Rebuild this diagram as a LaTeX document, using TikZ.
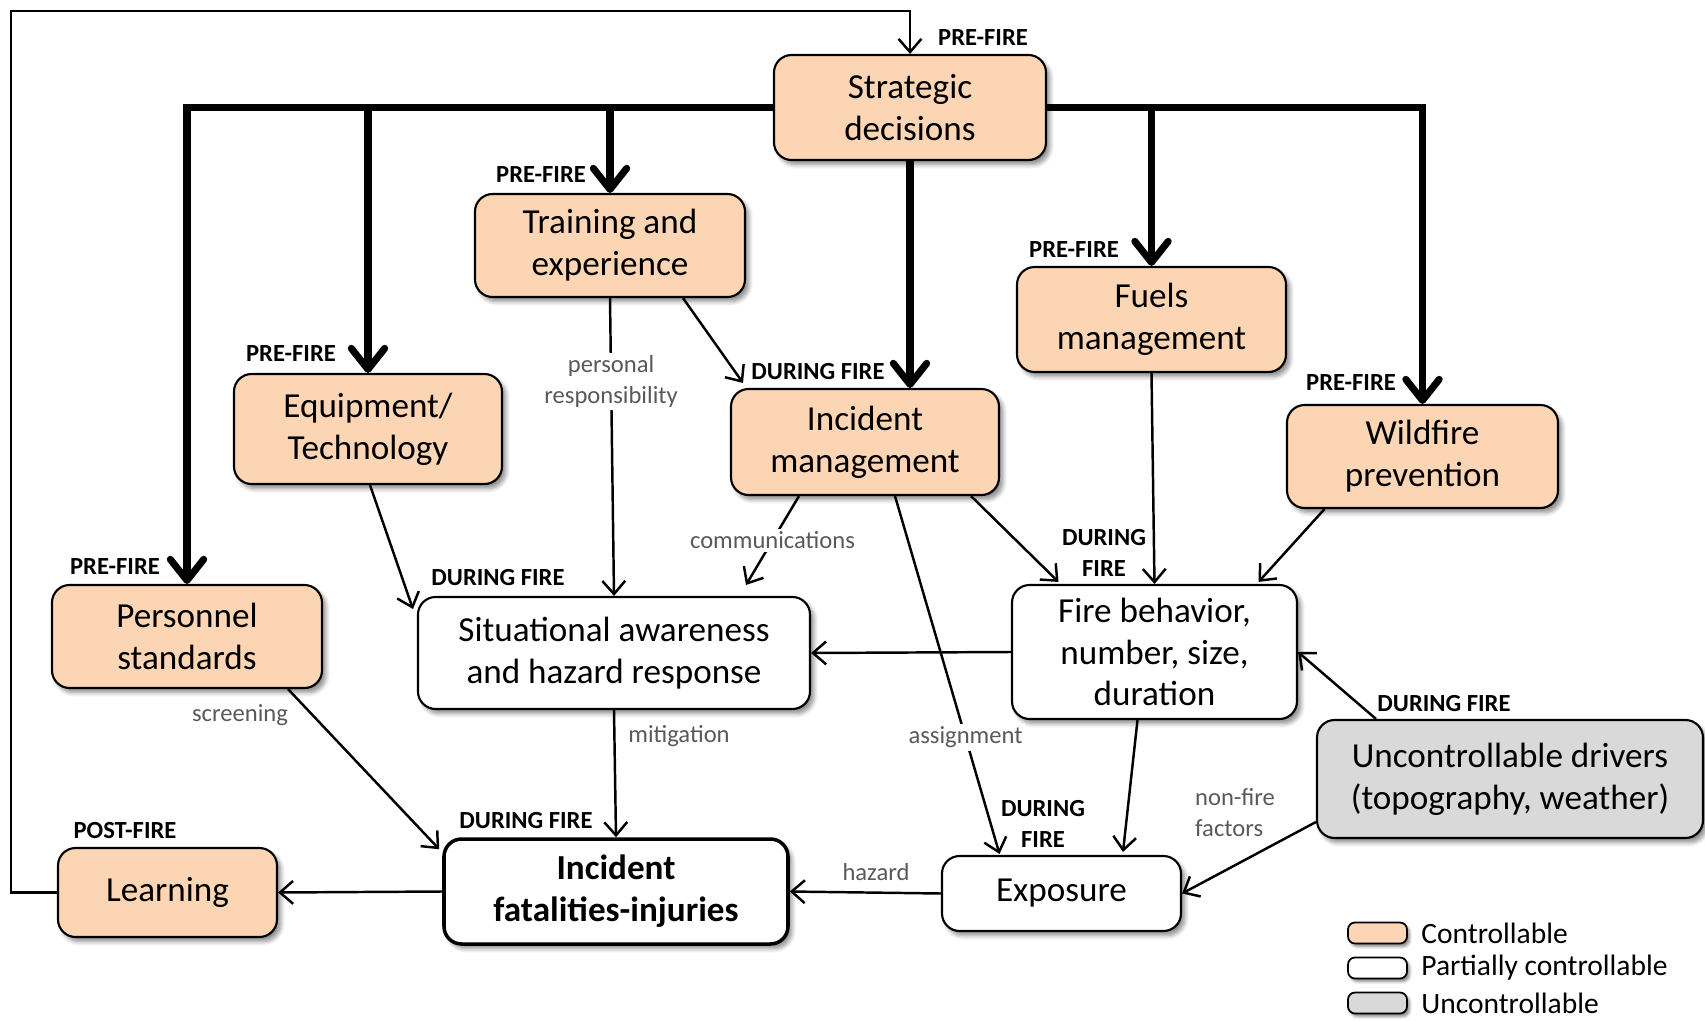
\documentclass[tikz,border=0pt]{standalone}
\usepackage{fontspec}
\setmainfont{Carlito}
\usetikzlibrary{arrows.meta,calc,shadows.blur}
\definecolor{ctrl}{HTML}{FCD5B4}
\definecolor{unctrl}{HTML}{D9D9D9}
\definecolor{lblgray}{HTML}{595959}

\tikzset{
  sz/.style 2 args={minimum width={#1*0.02cm}, minimum height={#2*0.02cm}},
  box/.style={draw=black, line width=1.2pt, rounded corners=10pt, align=center,
    inner sep=0pt, font=\fontsize{20}{23.8}\selectfont,
    blur shadow={shadow xshift=2.2pt, shadow yshift=-2.6pt, shadow blur steps=6,
      shadow blur radius=2.4pt, shadow opacity=45}},
  ctrlbox/.style={box, fill=ctrl},
  partbox/.style={box, fill=white},
  uncbox/.style={box, fill=unctrl},
  phase/.style={font=\fontsize{14}{17.6}\selectfont\bfseries, align=center, inner sep=0pt},
  elabel/.style={font=\fontsize{14}{17.6}\selectfont, text=lblgray, align=center, inner sep=1.5pt},
  link/.style={line width=1.4pt, -{Straight Barb[length=7.5pt, width=13pt]}},
  busarrow/.style={line width=4pt, line join=miter,
    -{Straight Barb[length=12pt, width=19pt, line cap=round, line join=round]}},
  legbox/.style={draw=black, line width=1pt, rounded corners=4pt, inner sep=0pt,
    blur shadow={shadow xshift=1.5pt, shadow yshift=-1.8pt, shadow blur steps=4,
      shadow blur radius=1.5pt, shadow opacity=45}},
  legtext/.style={font=\fontsize{16.8}{19}\selectfont, anchor=west, inner sep=0pt},
}

\begin{document}
\begin{tikzpicture}[x=0.02cm, y=-0.02cm]
\useasboundingbox (0,0) rectangle (1705,1021);

% ---- boxes ----
\node[ctrlbox, sz={272}{105}] (strat) at (910,107.5) {Strategic\\decisions};
\node[ctrlbox, sz={270}{103}] (train) at (610,245.5) {Training and\\experience};
\node[ctrlbox, sz={268}{110}] (equip) at (368,429) {Equipment/\\Technology};
\node[ctrlbox, sz={268}{106}] (incm) at (865,442) {Incident\\management};
\node[ctrlbox, sz={269}{105}] (fuels) at (1151.5,319.5) {Fuels\\management};
\node[ctrlbox, sz={271}{103}] (wild) at (1422.5,456.5) {Wildfire\\prevention};
\node[ctrlbox, sz={270}{103}] (pers) at (187,636.5) {Personnel\\standards};
\node[partbox, sz={392}{112}] (sit) at (614,653) {Situational awareness\\and hazard response};
\node[partbox, sz={285}{134}] (fire) at (1154.5,652) {Fire behavior,\\number, size,\\duration};
\node[uncbox, sz={386}{118}] (unc) at (1510,779) {Uncontrollable drivers\\(topography, weather)};
\node[partbox, sz={344}{105}, line width=2pt, font=\fontsize{20}{23.8}\selectfont\bfseries] (fat) at (616,891.5) {Incident\\fatalities-injuries};
\node[ctrlbox, sz={219}{89}] (learn) at (167.5,892.5) {Learning};
\node[partbox, sz={239}{75}] (expo) at (1061.5,893.5) {Exposure};

% ---- phase labels ----
\node[phase] (ph1) at (983,38) {PRE-FIRE};
\node[phase] (ph2) at (541,175) {PRE-FIRE};
\node[phase] (ph3) at (291,354) {PRE-FIRE};
\node[phase] (ph4) at (818,372) {DURING FIRE};
\node[phase] (ph5) at (1074,250) {PRE-FIRE};
\node[phase] (ph6) at (1351,383) {PRE-FIRE};
\node[phase] (ph7) at (115,567) {PRE-FIRE};
\node[phase] (ph8) at (498,578) {DURING FIRE};
\node[phase] (ph9) at (1104,553) {DURING\\FIRE};
\node[phase] (ph10) at (1444,704) {DURING FIRE};
\node[phase] (ph11) at (526,821) {DURING FIRE};
\node[phase] (ph12) at (125,831) {POST-FIRE};
\node[phase] (ph13) at (1043,824) {DURING\\FIRE};

% ---- strategic decisions feed every controllable factor ----
\draw[busarrow] (strat.west) -| (pers.north);
\draw[busarrow] (equip.north |- strat.west) -- (equip.north);
\draw[busarrow] (train.north |- strat.west) -- (train.north);
\draw[busarrow] (strat.south) -- (strat.south |- incm.north);
\draw[busarrow] (strat.east) -| (wild.north);
\draw[busarrow] (fuels.north |- strat.east) -- (fuels.north);

% ---- causal links ----
\draw[link] (train.south) -- (sit.north)
  node[elabel, fill=white, pos=0.28] (lpers) {personal\\responsibility};
\draw[link] ($(train.south)+(73,0)$) -- ($(incm.north)+(-122,-5)$);
\draw[link] ($(equip.south)+(2,0)$) -- ($(sit.west)+(-4,-44)$);
\draw[link] ($(incm.south)+(-66,0)$) -- ($(sit.north)+(132,-11)$)
  node[elabel, fill=white, pos=0.5] (lcomm) {communications};
\draw[link] ($(incm.south)+(106,0)$) -- ($(fire.north)+(-96,-2)$);
\draw[link] ($(incm.south)+(30,0)$) -- ($(expo.north)+(-62,-1)$)
  node[elabel, fill=white, pos=0.675] (lassign) {assignment};
\draw[link] (fuels.south) -- (fire.north);
\draw[link] ($(wild.south)+(-98,0)$) -- ($(fire.north)+(104,-2)$);
\draw[link] (fire.west) -- (sit.east);
\draw[link] ($(unc.north)+(-134,0)$) -- (fire.east);
\draw[link] ($(fire.south)+(-17,0)$) -- ($(expo.north)+(61.5,-3)$);
\draw[link] ($(unc.west)+(0,43)$) -- (expo.east);
\draw[link] ($(pers.south)+(101,0)$) -- ($(fat.north west)+(-3,12)$);
\draw[link] (sit.south) -- (fat.north);
\draw[link] (expo.west) -- (fat.east);
\draw[link] (fat.west) -- (learn.east);
\coordinate (fbk) at (11,11);
\draw[link] (learn.west) -| (fbk) -| (strat.north);

% ---- link labels set beside their lines ----
\node[elabel] (lscreen) at (240,715) {screening};
\node[elabel] (lmitig) at (679,736) {mitigation};
\node[elabel, align=left] (lnonfire) at (1235,813) {non-fire\\factors};
\node[elabel] (lhazard) at (876,872) {hazard};

% ---- legend ----
\node[legbox, fill=ctrl, sz={59}{21}] (lgc) at (1377.5,933) {};
\node[legbox, fill=white, sz={59}{21}] (lgp) at (1377.5,968) {};
\node[legbox, fill=unctrl, sz={59}{21}] (lgu) at (1377.5,1003) {};
\node[legtext] (lgct) at (1421,933) {Controllable};
\node[legtext] (lgpt) at (1421,968) {Partially controllable};
\node[legtext] (lgut) at (1421,1003) {Uncontrollable};
\end{tikzpicture}
\end{document}
